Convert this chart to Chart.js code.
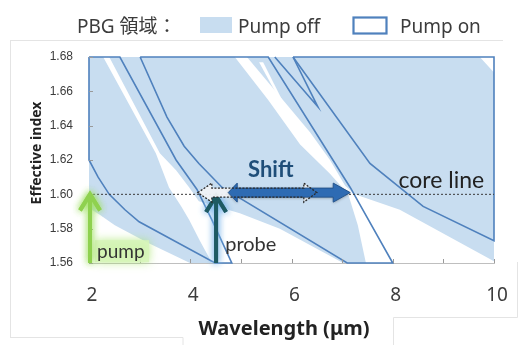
<!DOCTYPE html>
<html>
<head>
<meta charset="utf-8">
<script src="https://cdn.jsdelivr.net/npm/chart.js@4.4.1/dist/chart.umd.min.js"></script>
<style>
html,body{margin:0;padding:0;background:#ffffff;overflow:hidden;}
#box{position:relative;width:526px;height:345px;}
canvas{display:block;}
</style>
</head>
<body>
<div id="box"><canvas id="chart" width="526" height="345"></canvas></div>
<script>
// ---- axes ----
const xRange = [2, 10];
const yRange = [1.56, 1.68];
const xTickLabels = ['2', '4', '6', '8', '10'];
const yTickLabels = ['1.56', '1.58', '1.60', '1.62', '1.64', '1.66', '1.68'];

// ---- Pump off PBG region (light blue) : [wavelength (um), effective index] ----
const pumpOffRegion = [[2,1.56],[2,1.68],[10,1.68],[10,1.56],[2,1.56]];
// gaps (white) inside the pump-off region
const pumpOffGap1 = [[2.28,1.680],[2.40,1.680],[3.40,1.624],[3.72,1.614],[3.98,1.604],[4.17,1.596],[4.98,1.589],[5.77,1.580],[7.02,1.560],[4.43,1.560],[4.19,1.573],[3.98,1.585],[3.82,1.593],[3.58,1.604],[3.32,1.624],[2.28,1.680]];
const pumpOffGap2 = [[2.00,1.592],[2.22,1.588],[2.51,1.582],[3.15,1.572],[3.995,1.560],[2.00,1.560],[2.00,1.592]];
const pumpOffGap3 = [[4.88,1.680],[5.12,1.680],[6.37,1.636],[6.76,1.620],[7.06,1.605],[7.25,1.600],[8.14,1.591],[10.00,1.561],[10.00,1.560],[7.47,1.560],[7.31,1.582],[7.12,1.600],[6.76,1.612],[6.17,1.629],[5.54,1.655],[4.88,1.680]];
const pumpOffGap4 = [[5.36,1.677],[5.44,1.677],[5.90,1.650],[5.86,1.650],[5.36,1.677]];
const pumpOffGap5 = [[9.72,1.680],[10.00,1.680],[10.00,1.671],[9.72,1.680]];

// ---- Pump on PBG regions (outlines) ----
const pumpOnBand1 = [[2.00,1.680],[2.61,1.680],[3.72,1.620],[4.13,1.603],[4.43,1.585],[4.82,1.560],[4.49,1.560],[2.99,1.584],[2.71,1.591],[2.40,1.600],[2.18,1.610],[2.00,1.620],[2.00,1.680]];
const pumpOnBand2 = [[3.01,1.680],[5.54,1.680],[7.16,1.604],[8.00,1.560],[7.10,1.560],[4.63,1.604],[4.17,1.618],[3.88,1.628],[3.54,1.645],[3.01,1.680]];
const pumpOnSliver = [[5.67,1.680],[6.52,1.651],[6.03,1.680]];
const pumpOnBand3 = [[6.03,1.680],[7.55,1.618],[8.60,1.593],[10.00,1.573],[10.00,1.680],[6.03,1.680]];

// ---- annotations ----
const coreLine = [[2,1.60],[10,1.60]];
const pumpArrow = [[2.02,1.560],[2.02,1.600]];
const probeArrow = [[4.51,1.560],[4.51,1.599]];
const shiftOffArrow = [[4.15,1.601],[6.50,1.601]];
const shiftOnArrow = [[4.75,1.601],[7.16,1.601]];
const labelPump = [2.16, 1.5628];
const labelProbe = [4.69, 1.5672];
const labelShift = [5.59, 1.6101];
const labelCore = [8.96, 1.6037];

const OFF = '#c8ddf0';
const ON = '#4f81bd';
const TXT = '#3c3c3c';

const xy = a => a.map(p => ({x: p[0], y: p[1]}));
function fillSet(data, color, order) {
  return {data: xy(data), showLine: true, fill: 'shape', backgroundColor: color, borderWidth: 0, borderColor: 'rgba(0,0,0,0)', pointRadius: 0, tension: 0, order: order};
}
function lineSet(data, order) {
  return {data: xy(data), showLine: true, fill: false, borderColor: ON, borderWidth: 1.6, pointRadius: 0, tension: 0, order: order, clip: 3};
}

function blockArrow(ctx, x0, x1, yc, shaft, head, l0, l1) {
  const s = shaft / 2, h = head / 2;
  ctx.beginPath();
  ctx.moveTo(x0, yc); ctx.lineTo(x0 + l0, yc - h); ctx.lineTo(x0 + l0, yc - s);
  ctx.lineTo(x1 - l1, yc - s); ctx.lineTo(x1 - l1, yc - h); ctx.lineTo(x1, yc);
  ctx.lineTo(x1 - l1, yc + h); ctx.lineTo(x1 - l1, yc + s);
  ctx.lineTo(x0 + l0, yc + s); ctx.lineTo(x0 + l0, yc + h);
  ctx.closePath();
}
function lineArrow(ctx, x, yb, yt, color, w, hw, hh, glow) {
  ctx.save();
  ctx.strokeStyle = color; ctx.lineWidth = w; ctx.lineCap = 'butt'; ctx.lineJoin = 'miter';
  if (glow) { ctx.shadowColor = glow; ctx.shadowBlur = 7; }
  for (let k = 0; k < (glow ? 2 : 1); k++) {
    ctx.beginPath();
    ctx.moveTo(x, yb); ctx.lineTo(x, yt + 1);
    ctx.moveTo(x - hw, yt + hh); ctx.lineTo(x, yt); ctx.lineTo(x + hw, yt + hh);
    ctx.stroke();
  }
  ctx.restore();
}

const deco = {
  id: 'deco',
  beforeDraw(chart) {
    const ctx = chart.ctx;
    ctx.save(); ctx.fillStyle = '#ffffff'; ctx.fillRect(0, 0, chart.width, chart.height);
    // faint frame
    ctx.strokeStyle = '#e4e4e4'; ctx.lineWidth = 1;
    ctx.beginPath();
    ctx.moveTo(10, 40.5); ctx.lineTo(503, 40.5);
    ctx.moveTo(10.5, 40); ctx.lineTo(10.5, 337);
    ctx.moveTo(10, 337.5); ctx.lineTo(183, 337.5); ctx.lineTo(183, 345);
    ctx.moveTo(393.5, 345); ctx.lineTo(393.5, 317.5); ctx.lineTo(517.5, 317.5); ctx.lineTo(517.5, 262);
    ctx.stroke();
    ctx.restore();
  },
  afterDatasetsDraw(chart) {
    const ctx = chart.ctx;
    const xs = chart.scales.x, ys = chart.scales.y;
    const X = v => xs.getPixelForValue(v), Y = v => ys.getPixelForValue(v);
    ctx.save();
    // small inside tick marks
    ctx.strokeStyle = '#9a9a9a'; ctx.lineWidth = 1;
    ctx.beginPath();
    xs.ticks.forEach(t => { const p = Math.round(X(t.value)) + 0.5; ctx.moveTo(p, ys.bottom); ctx.lineTo(p, ys.bottom - 4); });
    ys.ticks.forEach(t => { const p = Math.round(Y(t.value)) + 0.5; ctx.moveTo(xs.left, p); ctx.lineTo(xs.left + 4, p); });
    ctx.stroke();

    // pump label highlight
    ctx.save();
    ctx.shadowColor = 'rgba(170,230,110,0.9)'; ctx.shadowBlur = 10;
    ctx.fillStyle = 'rgba(214,244,184,0.85)';
    ctx.fillRect(X(labelPump[0]) - 2, Y(labelPump[1]) - 18, 54, 22);
    ctx.restore();

    // pump arrow (green)
    lineArrow(ctx, X(pumpArrow[0][0]), Y(pumpArrow[0][1]), Y(pumpArrow[1][1]), '#8fd14f', 4, 10, 16, 'rgba(160,225,100,0.9)');
    // probe arrow (dark teal)
    lineArrow(ctx, X(probeArrow[0][0]), Y(probeArrow[0][1]), Y(probeArrow[1][1]), '#1e5a63', 4, 10, 16, 'rgba(120,180,235,0.95)');

    // shift arrows
    const yc = Y(shiftOffArrow[0][1]);
    const a0 = X(shiftOffArrow[0][0]), a1 = X(shiftOffArrow[1][0]);
    const b0 = X(shiftOnArrow[0][0]), b1 = X(shiftOnArrow[1][0]);
    blockArrow(ctx, a0, a1, yc, 9, 19, 14, 13);
    ctx.fillStyle = 'rgba(240,242,245,0.95)'; ctx.fill();
    ctx.save();
    ctx.shadowColor = 'rgba(0,0,0,0.35)'; ctx.shadowBlur = 3; ctx.shadowOffsetY = 1;
    blockArrow(ctx, b0, b1, yc, 9, 19, 9, 17);
    ctx.fillStyle = '#2e6bb3'; ctx.fill();
    ctx.restore();
    blockArrow(ctx, b0, b1, yc, 9, 19, 9, 17);
    ctx.strokeStyle = '#24558f'; ctx.lineWidth = 1; ctx.stroke();
    blockArrow(ctx, a0, a1, yc, 9, 19, 14, 13);
    ctx.setLineDash([2, 1.5]); ctx.strokeStyle = '#2a2a2a'; ctx.lineWidth = 1.3; ctx.stroke();
    ctx.setLineDash([]);

    // labels
    ctx.textBaseline = 'alphabetic';
    ctx.fillStyle = '#333333';
    ctx.font = '19px Lato, "Noto Sans", sans-serif';
    ctx.textAlign = 'left';
    ctx.fillText('pump', X(labelPump[0]), Y(labelPump[1]));
    ctx.font = '20px Lato, "Noto Sans", sans-serif';
    ctx.fillText('probe', X(labelProbe[0]), Y(labelProbe[1]));
    ctx.textAlign = 'center';
    ctx.font = '23px Lato, "Noto Sans", sans-serif';
    ctx.fillStyle = '#222222';
    ctx.fillText('core line', X(labelCore[0]), Y(labelCore[1]));
    ctx.font = 'bold 22px Lato, "Noto Sans", sans-serif';
    ctx.fillStyle = '#1f4e79';
    ctx.fillText('Shift', X(labelShift[0]), Y(labelShift[1]));
    ctx.restore();
  },
  afterDraw(chart) {
    const ctx = chart.ctx;
    ctx.save();
    // legend
    ctx.fillStyle = TXT; ctx.textBaseline = 'alphabetic'; ctx.textAlign = 'left';
    ctx.font = '19px "Noto Sans", "Noto Sans CJK JP", sans-serif';
    ctx.fillText('PBG 領域：', 77, 33);
    ctx.fillStyle = OFF; ctx.fillRect(200, 17, 32, 16);
    ctx.fillStyle = TXT; ctx.fillText('Pump off', 238, 33);
    ctx.strokeStyle = ON; ctx.lineWidth = 2.2; ctx.strokeRect(353.5, 17.5, 33, 16);
    ctx.fillText('Pump on', 400, 33);
    // axis titles
    ctx.textAlign = 'center';
    ctx.fillStyle = '#222222';
    ctx.font = 'bold 20px "Noto Sans", sans-serif';
    ctx.fillText('Wavelength (μm)', 284, 335);
    ctx.translate(41, 153); ctx.rotate(-Math.PI / 2);
    ctx.font = 'bold 14px "Noto Sans", sans-serif';
    ctx.fillText('Effective index', 0, 0);
    ctx.restore();
  }
};

new Chart(document.getElementById('chart'), {
  type: 'scatter',
  data: {
    datasets: [
      Object.assign(lineSet(coreLine, 1), {borderColor: '#3a3a3a', borderWidth: 1, borderDash: [2, 2], clip: 0}),
      lineSet(pumpOnBand1, 2),
      lineSet(pumpOnBand2, 2),
      lineSet(pumpOnSliver, 2),
      lineSet(pumpOnBand3, 2),
      fillSet(pumpOffGap1, '#ffffff', 5),
      fillSet(pumpOffGap2, '#ffffff', 5),
      fillSet(pumpOffGap3, '#ffffff', 5),
      fillSet(pumpOffGap4, '#ffffff', 5),
      fillSet(pumpOffGap5, '#ffffff', 5),
      fillSet(pumpOffRegion, OFF, 9)
    ]
  },
  options: {
    responsive: false,
    animation: false,
    events: [],
    layout: {padding: {left: 0, right: 32, top: 57, bottom: 0}},
    plugins: {legend: {display: false}, tooltip: {enabled: false}, title: {display: false}},
    scales: {
      x: {
        type: 'linear', min: xRange[0], max: xRange[1],
        afterFit: s => { s.height = 82; },
        grid: {display: false, drawTicks: false},
        border: {display: true, color: '#bfbfbf', width: 1},
        ticks: {
          stepSize: 1, padding: 21, labelOffset: 3, color: '#3c3c3c',
          font: {family: '"Noto Sans", sans-serif', size: 19},
          callback: v => { const i = xTickLabels.indexOf(String(v)); return i >= 0 ? xTickLabels[i] : ''; }
        }
      },
      y: {
        type: 'linear', min: yRange[0], max: yRange[1],
        afterFit: s => { s.width = 89; },
        grid: {display: false, drawTicks: false},
        border: {display: true, color: '#bfbfbf', width: 1},
        ticks: {
          stepSize: 0.02, padding: 16, color: '#3c3c3c',
          font: {family: '"Liberation Sans Narrow", "Liberation Sans", sans-serif', size: 12},
          callback: v => { const s = Number(v).toFixed(2); return yTickLabels.indexOf(s) >= 0 ? s : ''; }
        }
      }
    }
  },
  plugins: [deco]
});
</script>
</body>
</html>
